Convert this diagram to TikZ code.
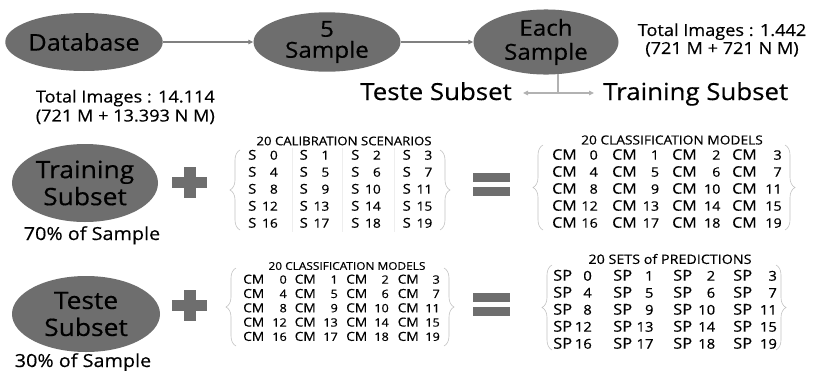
\documentclass[tikz,border=0pt]{standalone}
\usepackage{fontspec}
\setmainfont[FakeStretch=1.1, FakeBold=0.45]{Open Sans}
\usetikzlibrary{arrows.meta,decorations.pathreplacing,shapes.geometric}

\definecolor{blobgray}{HTML}{6E6E6E}
\definecolor{linkgray}{HTML}{808080}
\definecolor{splitgray}{HTML}{B2B2B2}
\definecolor{bracegray}{HTML}{C2C2C2}
\definecolor{gridgray}{HTML}{EEEEEE}

\newcommand{\fs}[1]{\fontsize{#1}{#1}\selectfont}

\tikzset{
  blob/.style={ellipse, fill=blobgray, inner sep=0pt, align=center, text=black},
  link/.style={draw=linkgray, line width=1.1pt, -{Triangle[length=5pt,width=4.5pt]}},
  splitlink/.style={draw=splitgray, line width=1.1pt, -{Triangle[length=5pt,width=4.5pt]}},
  caption/.style={inner sep=0pt, align=center},
  cellL/.style={anchor=mid west, inner sep=0pt},
  cellR/.style={anchor=mid east, inner sep=0pt},
  curly/.style={draw=bracegray, line width=0.6pt, decorate,
    decoration={brace, amplitude=10pt}},
  barfill/.style={fill=blobgray},
}

\begin{document}
\begin{tikzpicture}[x=1pt, y=-1pt]
\useasboundingbox (0,0) rectangle (819,370);

% ---- top row: database -> samples -> each sample ----
\node[blob, minimum width=145pt, minimum height=58pt, font=\fs{23}] (db) at (84,42) {Database};
\node[blob, minimum width=147pt, minimum height=58pt, font=\fontsize{22}{21}\selectfont] (five) at (327,42) {5\\Sample};
\node[blob, minimum width=145pt, minimum height=56pt, font=\fontsize{22}{24}\selectfont] (each) at (546,42) {Each\\Sample};

\draw[link] (db) -- (five);
\draw[link] (five) -- (each);

\node[caption, anchor=east, align=right, font=\fontsize{16.5}{19}\selectfont] (totdb) at (215,107)
  {Total Images : 14.114\\(721 M + 13.393 N M)};
\node[caption, font=\fontsize{16.5}{18}\selectfont] (totsample) at (722,40)
  {Total Images : 1.442\\(721 M + 721 N M)};

% ---- split of each sample into the two subsets ----
\node[caption, anchor=base east, font=\fs{23.5}] (tsub) at (512,100) {Teste Subset};
\node[caption, anchor=base west, font=\fs{23.5}] (rsub) at (603,100) {Training Subset};
\coordinate (split) at (558,93);
\draw[draw=splitgray, line width=1.1pt] (split |- each.south) ++(0,-0.5) -- (split);
\draw[splitlink] (split) -- ([xshift=11pt]tsub.east |- split);
\draw[splitlink] (split) -- ([xshift=-9pt]rsub.west |- split);

% ---- training subset + calibration scenarios = classification models ----
\node[blob, minimum width=146pt, minimum height=78pt, font=\fontsize{24}{27}\selectfont] (train) at (85,183) {Training\\Subset};
\node[caption, anchor=base, font=\fs{18}] (trainpct) at (92,240) {70\% of Sample};

\fill[barfill] (172,177) rectangle (207,188);
\fill[barfill] (184,167) rectangle (196,198);

\foreach \xs in {292,342,394} \draw[gridgray, line width=0.6pt] (\xs,148) -- (\xs,232);
\node[caption, font=\fs{12}] (calT) at (344,141) {20 CALIBRATION SCENARIOS};
\foreach \n in {0,...,19} {
  \pgfmathtruncatemacro\r{int(\n/4)}
  \pgfmathtruncatemacro\c{mod(\n,4)}
  \node[cellL, font=\fs{13.5}] (calS\n) at ({248+51.5*\c},{157+17*\r}) {S};
  \node[cellR, font=\fs{12.5}] (calN\n) at ({278+51.5*\c},{157+17*\r}) {\n};
}
\draw[curly] (240,230) -- (240,150);
\draw[curly] (440,150) -- (440,230);

\fill[barfill] (473,173) rectangle (510,182);
\fill[barfill] (473,187) rectangle (510,196);

\node[caption, font=\fs{12.5}] (cmAT) at (672,140) {20 CLASSIFICATION MODELS};
\foreach \n in {0,...,19} {
  \pgfmathtruncatemacro\r{int(\n/4)}
  \pgfmathtruncatemacro\c{mod(\n,4)}
  \node[cellL, font=\fs{14.5}] (cmAS\n) at ({552+60*\c},{157+17*\r}) {CM};
  \node[cellR, font=\fs{13}] (cmAN\n) at ({598+61.3*\c},{157+17*\r}) {\n};
}
\draw[curly] (543,230) -- (543,145);
\draw[curly] (785,145) -- (785,230);

% ---- test subset + classification models = sets of predictions ----
\node[blob, minimum width=148pt, minimum height=76pt, font=\fontsize{24}{27}\selectfont] (test) at (86,314) {Teste\\Subset};
\node[caption, anchor=base, font=\fs{18}] (testpct) at (83,367) {30\% of Sample};

\fill[barfill] (172,300) rectangle (207,311);
\fill[barfill] (184,290) rectangle (196,321);

\node[caption, font=\fs{10.8}] (cmBT) at (347,266) {20 CLASSIFICATION MODELS};
\foreach \n in {0,...,19} {
  \pgfmathtruncatemacro\r{int(\n/4)}
  \pgfmathtruncatemacro\c{mod(\n,4)}
  \node[cellL, font=\fs{12.5}] (cmBS\n) at ({243+51.5*\c},{281+14.3*\r}) {CM};
  \node[cellR, font=\fs{11.5}] (cmBN\n) at ({287+51*\c},{281+14.3*\r}) {\n};
}
\draw[curly] (236,346) -- (236,268);
\draw[curly] (444,268) -- (444,346);

\fill[barfill] (473,293) rectangle (510,302);
\fill[barfill] (473,307) rectangle (510,316);

\node[caption, font=\fs{13}] (spT) at (670,259) {20 SETS of PREDICTIONS};
\foreach \n in {0,...,19} {
  \pgfmathtruncatemacro\r{int(\n/4)}
  \pgfmathtruncatemacro\c{mod(\n,4)}
  \node[cellL, font=\fs{15}] (spS\n) at ({553+60*\c},{278+17*\r}) {SP};
  \node[cellR, font=\fs{13.5}] (spN\n) at ({592+61.7*\c},{278+17*\r}) {\n};
}
\draw[curly] (552,350) -- (552,265);
\draw[curly] (776,265) -- (776,350);
\end{tikzpicture}
\end{document}
